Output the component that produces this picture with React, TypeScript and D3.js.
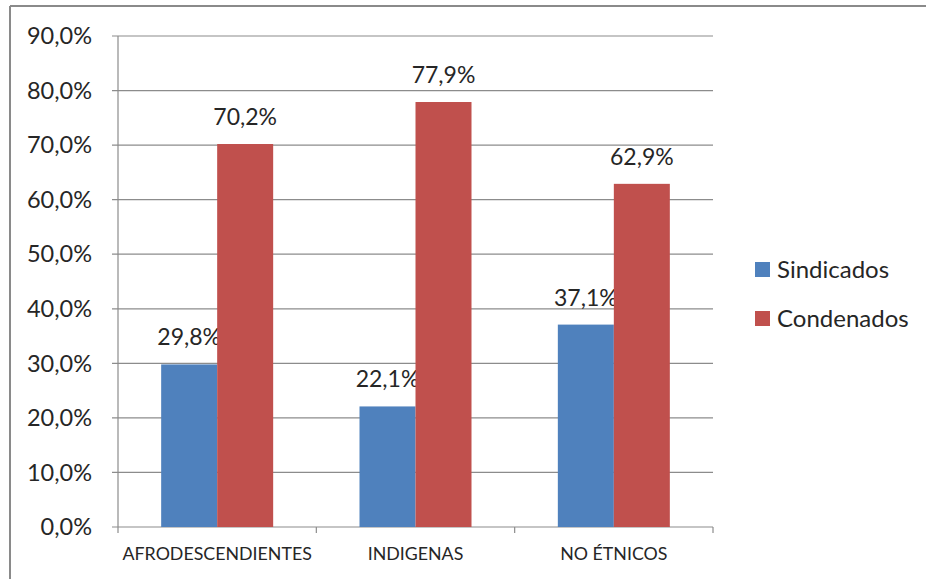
import React from "react";
import * as d3 from "d3";

const categories = ["AFRODESCENDIENTES", "INDIGENAS", "NO ÉTNICOS"];
const seriesNames = ["Sindicados", "Condenados"];
const sindicados = [29.8, 22.1, 37.1];
const condenados = [70.2, 77.9, 62.9];
const yTicks = [0, 10, 20, 30, 40, 50, 60, 70, 80, 90];
const colors = ["#4F81BD", "#C0504D"];

const W = 926, H = 579;
const FONT = "Lato, 'Open Sans', sans-serif";

export default function App() {
  const x0 = d3.scaleBand().domain(categories).range([118, 713]);
  const y = d3.scaleLinear().domain([0, 90]).range([527, 36]);
  const barW = 56;
  const series = [sindicados, condenados];
  const fmt = (v: number) => v.toFixed(1).replace(".", ",");

  return (
    <div style={{ position: "fixed", left: 0, top: 0 }}>
      <svg width={W} height={H} style={{ display: "block", background: "#fff" }} fontFamily={FONT}>
        <rect x={0} y={0} width={W} height={H} fill="#fff" />
        {/* outer border */}
        <line x1={10} x2={W} y1={6} y2={6} stroke="#8a8a8a" strokeWidth={2} />
        <line x1={10} x2={10} y1={6} y2={H} stroke="#8a8a8a" strokeWidth={2} />
        {/* gridlines */}
        {yTicks.map((t) => (
          <g key={t}>
            <line x1={112} x2={713} y1={y(t)} y2={y(t)} stroke="#8c8c8c" strokeWidth={1.2} />
            <text x={92} y={y(t)} dy="0.35em" textAnchor="end" fontSize={23.5} fill="#262626">
              {fmt(t)}%
            </text>
          </g>
        ))}
        {/* y axis */}
        <line x1={118} x2={118} y1={36} y2={527} stroke="#8c8c8c" strokeWidth={1.2} />
        {/* category ticks */}
        {[...categories.map((c) => x0(c)!), 713].map((px, i) => (
          <line key={i} x1={px} x2={px} y1={527} y2={533} stroke="#8c8c8c" strokeWidth={1.2} />
        ))}
        {categories.map((c, ci) => {
          const bx = x0(c)! + (x0.bandwidth() - barW * 2) / 2;
          return (
            <g key={c}>
              {series.map((s, si) => (
                <g key={si}>
                  <rect x={bx + si * barW} y={y(s[ci])} width={barW} height={527 - y(s[ci])} fill={colors[si]} />
                  <text x={bx + si * barW + barW / 2} y={y(s[ci]) - 19} textAnchor="middle" fontSize={23} fill="#262626">
                    {fmt(s[ci])}%
                  </text>
                </g>
              ))}
              <text x={x0(c)! + x0.bandwidth() / 2} y={560} textAnchor="middle" fontSize={17.8} fill="#262626">
                {c}
              </text>
            </g>
          );
        })}
        {/* legend */}
        {seriesNames.map((n, i) => (
          <g key={n}>
            <rect x={755} y={262 + i * 49} width={15} height={15} fill={colors[i]} />
            <text x={777} y={269.5 + i * 49} dy="0.35em" fontSize={24} fill="#262626">
              {n}
            </text>
          </g>
        ))}
      </svg>
    </div>
  );
}
